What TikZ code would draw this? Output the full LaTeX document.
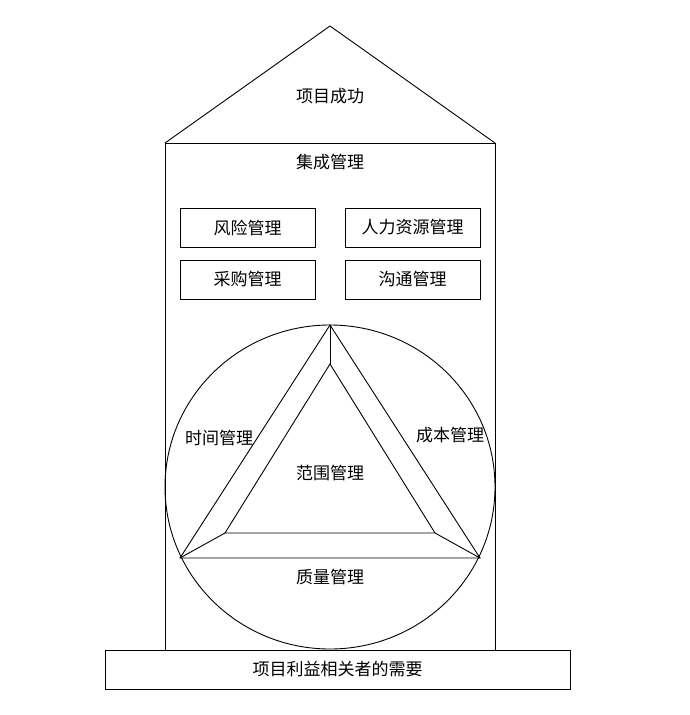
\documentclass[tikz,border=0pt]{standalone}
\usepackage{fontspec}
\newfontfamily\cjk{Noto Sans CJK SC}
\begin{document}
\begin{tikzpicture}[x=1pt,y=-1pt,line width=0.9pt,
  lbl/.style={font=\cjk\fontsize{17}{20}\selectfont,inner sep=0pt},
  mbox/.style={draw,minimum width=135pt,minimum height=39pt,inner sep=0pt,font=\cjk\fontsize{17}{20}\selectfont}]
\useasboundingbox (0,0) rectangle (690,715);
% roof and house
\coordinate (apex) at (330,26);
\coordinate (rl) at (165,143);
\coordinate (rr) at (495,143);
\coordinate (wl) at (165,650);
\coordinate (wr) at (495,650);
\draw (rl) -- (apex) -- (rr);
\draw (wl) -- (rl) -- (rr) -- (wr);
\node[lbl] (success) at (330,96) {项目成功};
\node[lbl] (integ) at (330,162) {集成管理};
% boxes
\node[mbox] (risk) at (247.5,227.5) {风险管理};
\node[mbox] (hr) at (412.5,227.5) {人力资源管理};
\node[mbox] (proc) at (247.5,279.5) {采购管理};
\node[mbox] (comm) at (412.5,279.5) {沟通管理};
% circle
\draw (330,487) ellipse [x radius=165, y radius=162];
% triangles
\coordinate (oa) at (330,325);
\coordinate (ol) at (180,558);
\coordinate (or) at (480,558);
\coordinate (ia) at (330,364);
\coordinate (il) at (225,533);
\coordinate (ir) at (435,533);
\draw (oa) -- (ol) -- (or) -- cycle;
\draw (ia) -- (il) -- (ir) -- cycle;
\draw (oa) -- (ia);
\draw (ol) -- (il);
\draw (or) -- (ir);
\node[lbl] (time) at (219,438) {时间管理};
\node[lbl] (cost) at (450,435) {成本管理};
\node[lbl] (scope) at (330,473) {范围管理};
\node[lbl] (qual) at (330,577) {质量管理};
% base
\node[draw,minimum width=465pt,minimum height=39pt,inner sep=0pt,font=\cjk\fontsize{17}{20}\selectfont] (base) at (337.5,669.5) {项目利益相关者的需要};
\end{tikzpicture}
\end{document}
